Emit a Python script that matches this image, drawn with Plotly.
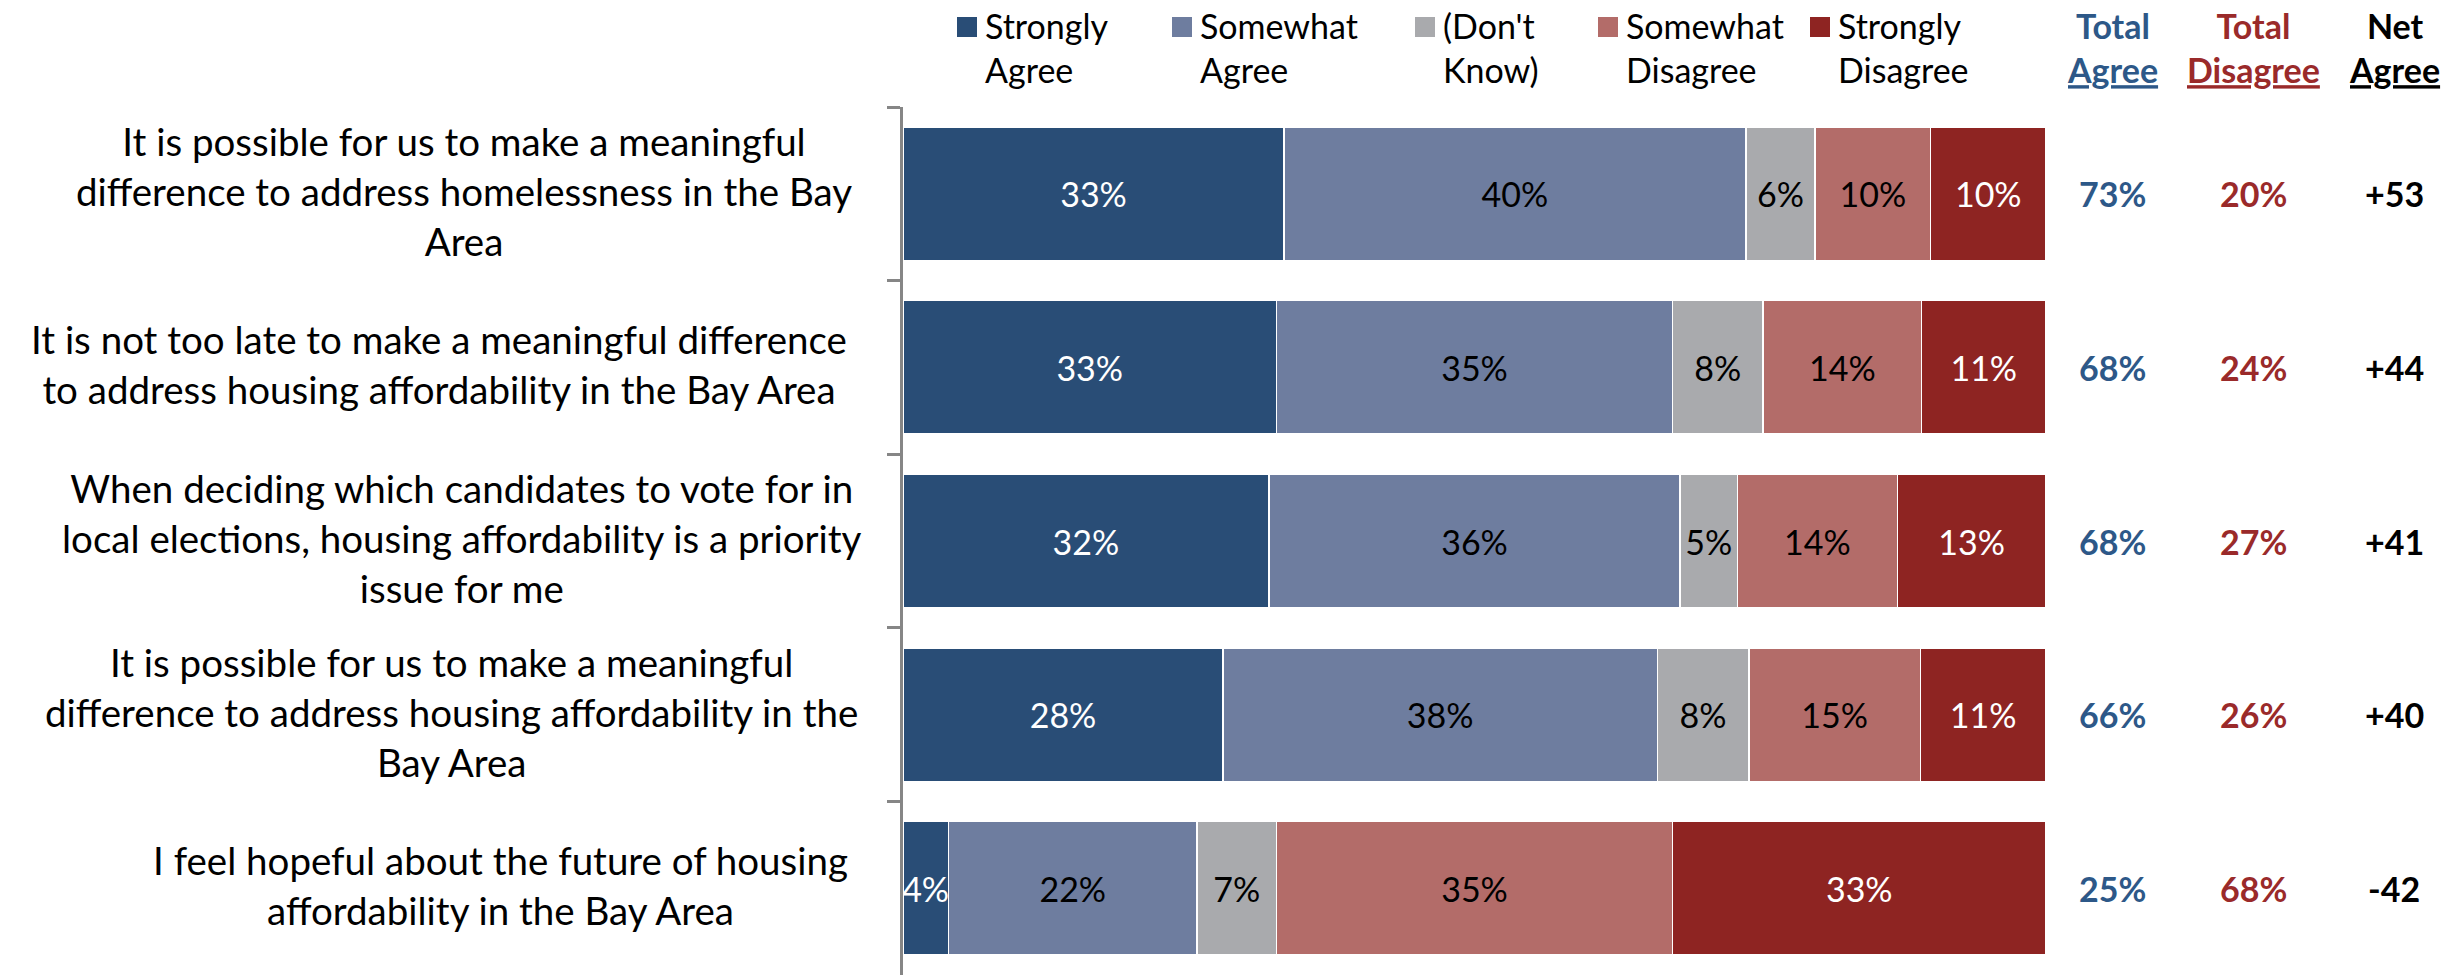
import plotly.graph_objects as go

# Survey statements (top to bottom)
statements = [
    "It is possible for us to make a meaningful<br>difference to address homelessness in the Bay<br>Area",
    "It is not too late to make a meaningful difference<br>to address housing affordability in the Bay Area",
    "When deciding which candidates to vote for in<br>local elections, housing affordability is a priority<br>issue for me",
    "It is possible for us to make a meaningful<br>difference to address housing affordability in the<br>Bay Area",
    "I feel hopeful about the future of housing<br>affordability in the Bay Area",
]
row_ids = ["s1", "s2", "s3", "s4", "s5"]

# Response shares (%)
strongly_agree = [33, 33, 32, 28, 4]
somewhat_agree = [40, 35, 36, 38, 22]
dont_know = [6, 8, 5, 8, 7]
somewhat_disagree = [10, 14, 14, 15, 35]
strongly_disagree = [10, 11, 13, 11, 33]

total_agree = [73, 68, 68, 66, 25]
total_disagree = [20, 24, 27, 26, 68]
net_agree = [53, 44, 41, 40, -42]

series_names = ["Strongly<br>Agree", "Somewhat<br>Agree", "(Don't<br>Know)",
                "Somewhat<br>Disagree", "Strongly<br>Disagree"]
series_values = [strongly_agree, somewhat_agree, dont_know,
                 somewhat_disagree, strongly_disagree]
series_colors = ["#294D76", "#6E7D9F", "#A9AAAD", "#B36C69", "#8E2422"]
label_colors = ["white", "black", "black", "black", "white"]

BLUE = "#2D5888"
RED = "#9A2A2A"
FONT = "Lato, sans-serif"

W, H = 2458, 980
L, R, T, B = 903, 2046, 107, 975

# horizontal centre (px) of each statement's text block
label_center = [464, 439, 462, 451, 500]


def px_x(x):
    return (x - L) / (R - L)


def px_y(y):
    return (B - y) / (B - T)


fig = go.Figure()
for name, vals, col, tcol in zip(series_names, series_values, series_colors, label_colors):
    fig.add_trace(go.Bar(
        y=row_ids, x=vals, orientation="h", name=name,
        marker=dict(color=col, line=dict(color="white", width=1.5)),
        text=[f"{v}%" for v in vals], texttemplate="%{text}",
        textposition="inside", insidetextanchor="middle", textangle=0,
        constraintext="none",
        textfont=dict(family=FONT, size=34, color=tcol),
        showlegend=False,
    ))

annotations = []
shapes = []

# Statement labels to the left of the bars
for rid, s, xc in zip(row_ids, statements, label_center):
    annotations.append(dict(
        xref="paper", yref="y", x=px_x(xc), y=rid, text=s, showarrow=False,
        xanchor="center", yanchor="middle", align="center", yshift=3,
        font=dict(family=FONT, size=38.5, color="black"),
    ))

# Summary columns
cols = [(2112, total_agree, BLUE, "%"), (2253, total_disagree, RED, "%"), (2394, net_agree, "black", "net")]
for xpx, vals, col, kind in cols:
    for rid, v in zip(row_ids, vals):
        txt = f"{v}%" if kind == "%" else f"{v:+d}"
        annotations.append(dict(
            xref="paper", yref="y", x=px_x(xpx), y=rid, text=f"<b>{txt}</b>",
            showarrow=False, xanchor="center", yanchor="middle",
            font=dict(family=FONT, size=34, color=col),
        ))

headers = [(2112, "Total<br><u>Agree</u>", BLUE), (2253, "Total<br><u>Disagree</u>", RED),
           (2394, "Net<br><u>Agree</u>", "black")]
for xpx, txt, col in headers:
    annotations.append(dict(
        xref="paper", yref="paper", x=px_x(xpx), y=px_y(48), text=f"<b>{txt}</b>",
        showarrow=False, xanchor="center", yanchor="middle", align="center",
        font=dict(family=FONT, size=34, color=col),
    ))

# Legend: colour squares with two-line labels
legend_x = [967, 1182, 1425, 1608, 1820]
for cx, name, col in zip(legend_x, series_names, series_colors):
    shapes.append(dict(
        type="rect", xref="paper", yref="paper",
        x0=px_x(cx - 10), x1=px_x(cx + 10), y0=px_y(37), y1=px_y(17),
        fillcolor=col, line=dict(width=0),
    ))
    annotations.append(dict(
        xref="paper", yref="paper", x=px_x(cx + 16), y=px_y(48), text=name,
        showarrow=False, xanchor="left", yanchor="middle", align="left",
        font=dict(family=FONT, size=34, color="black"),
    ))

fig.update_layout(
    width=W, height=H, barmode="stack", barnorm="percent", bargap=0.23,
    margin=dict(l=L, r=W - R, t=T, b=H - B, pad=0),
    paper_bgcolor="white", plot_bgcolor="white",
    xaxis=dict(range=[0, 100], visible=False, fixedrange=True),
    yaxis=dict(
        categoryorder="array", categoryarray=row_ids, autorange="reversed",
        showticklabels=False, showgrid=False, zeroline=False,
        showline=True, linecolor="#868686", linewidth=3,
        ticks="outside", tickson="boundaries", ticklen=13, tickwidth=3, tickcolor="#868686",
    ),
    annotations=annotations, shapes=shapes,
)

fig.write_html("out.html")
